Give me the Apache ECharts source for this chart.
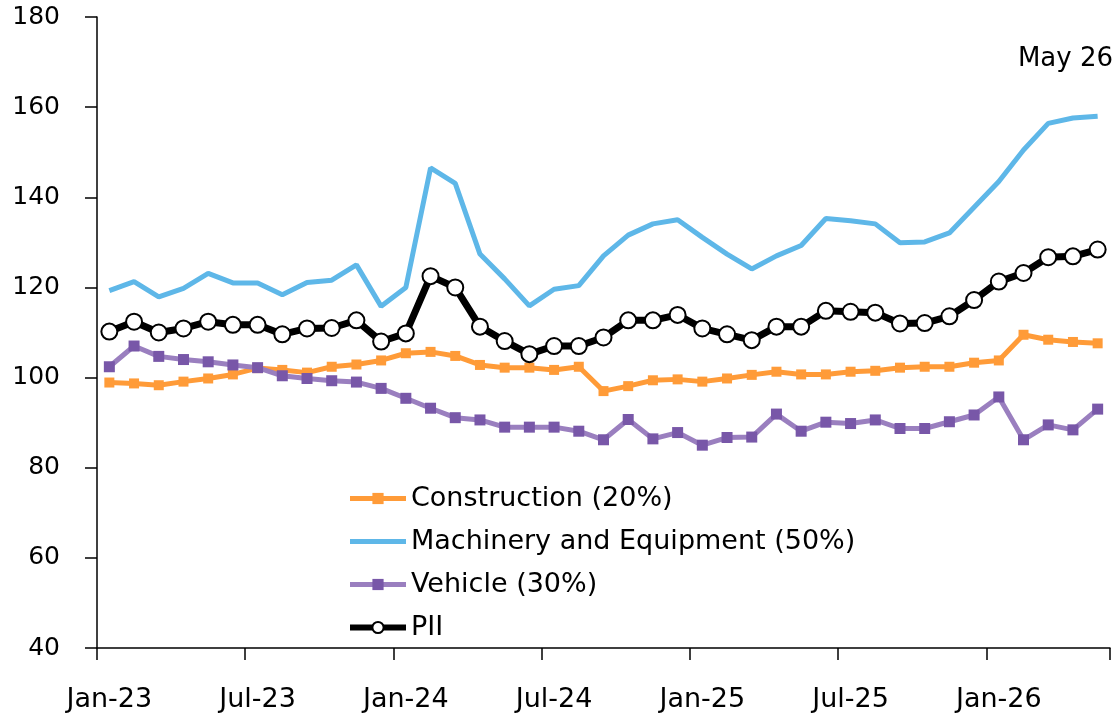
<!DOCTYPE html>
<html>
<head>
<meta charset="utf-8">
<title>PII</title>
<script src="https://cdn.jsdelivr.net/npm/echarts@6/dist/echarts.min.js"></script>
<style>
  html, body { margin: 0; padding: 0; background: #fff; }
  #chart { width: 1117px; height: 713px; }
</style>
</head>
<body>
<div id="chart"></div>
<script>
// months Jan-23 .. May-26
var months = [
    'Jan-23', 'Feb-23', 'Mar-23', 'Apr-23', 'May-23', 'Jun-23', 'Jul-23', 'Aug-23', 'Sep-23', 'Oct-23', 'Nov-23', 'Dec-23',
    'Jan-24', 'Feb-24', 'Mar-24', 'Apr-24', 'May-24', 'Jun-24', 'Jul-24', 'Aug-24', 'Sep-24', 'Oct-24', 'Nov-24', 'Dec-24',
    'Jan-25', 'Feb-25', 'Mar-25', 'Apr-25', 'May-25', 'Jun-25', 'Jul-25', 'Aug-25', 'Sep-25', 'Oct-25', 'Nov-25', 'Dec-25',
    'Jan-26', 'Feb-26', 'Mar-26', 'Apr-26', 'May-26'
];

var construction = [
    98.9, 98.7, 98.3, 99.1, 99.8, 100.7, 102.1, 101.7, 101.1, 102.4, 102.9, 103.8,
    105.4, 105.7, 104.8, 102.8, 102.2, 102.2, 101.7, 102.4, 97.0, 98.1, 99.4, 99.6,
    99.1, 99.8, 100.6, 101.3, 100.7, 100.7, 101.3, 101.5, 102.2, 102.4, 102.4, 103.3,
    103.8, 109.5, 108.4, 107.9, 107.6
];

var machinery = [
    119.3, 121.3, 117.9, 119.8, 123.1, 121.0, 121.0, 118.4, 121.1, 121.6, 125.0, 115.8,
    120.0, 146.5, 143.1, 127.4, 121.9, 115.9, 119.6, 120.4, 127.0, 131.6, 134.1, 135.0,
    131.1, 127.4, 124.1, 127.0, 129.3, 135.3, 134.8, 134.1, 129.9, 130.1, 132.1, 137.8,
    143.5, 150.5, 156.4, 157.6, 158.0
];

var vehicle = [
    102.4, 107.0, 104.7, 104.0, 103.5, 102.8, 102.2, 100.4, 99.8, 99.3, 99.0, 97.6,
    95.4, 93.2, 91.1, 90.6, 89.0, 89.0, 89.0, 88.1, 86.2, 90.7, 86.4, 87.8,
    85.0, 86.7, 86.8, 91.9, 88.1, 90.1, 89.8, 90.6, 88.7, 88.7, 90.2, 91.7,
    95.7, 86.2, 89.5, 88.4, 93.0
];

var pii = [
    110.2, 112.4, 110.0, 110.9, 112.4, 111.7, 111.7, 109.6, 110.9, 111.0, 112.7, 108.0,
    109.8, 122.5, 120.0, 111.3, 108.1, 105.2, 107.0, 107.0, 108.9, 112.7, 112.7, 113.9,
    110.9, 109.6, 108.3, 111.3, 111.3, 114.8, 114.6, 114.4, 112.0, 112.1, 113.6, 117.2,
    121.3, 123.2, 126.7, 126.9, 128.4
];

var seriesNames = ['Construction (20%)', 'Machinery and Equipment (50%)', 'Vehicle (30%)', 'PII'];
var lastLabel = 'May 26';

var font = 'DejaVu Sans';

var chart = echarts.init(document.getElementById('chart'));

var option = {
    animation: false,
    grid: {
        left: 97,
        right: 7,
        top: 17,
        bottom: 65
    },
    graphic: [{
        type: 'text',
        right: 4,
        top: 46,
        style: {
            text: lastLabel,
            fontFamily: font,
            fontSize: 26,
            fill: '#000'
        }
    }],
    legend: {
        orient: 'vertical',
        left: 342,
        top: 480,
        itemWidth: 56,
        itemHeight: 14,
        itemGap: 16,
        textStyle: {
            fontFamily: font,
            fontSize: 27,
            color: '#000'
        },
        data: [
            { name: seriesNames[0], lineStyle: { width: 5 } },
            { name: seriesNames[1], lineStyle: { width: 5 }, itemStyle: { opacity: 0 } },
            { name: seriesNames[2], lineStyle: { width: 5 } },
            { name: seriesNames[3], lineStyle: { width: 6 } }
        ]
    },
    xAxis: {
        type: 'category',
        boundaryGap: true,
        data: months,
        axisLine: { show: true, lineStyle: { color: '#000', width: 1.5 } },
        axisTick: { show: true, interval: 5, length: 12, lineStyle: { color: '#000', width: 1.5 } },
        axisLabel: {
            interval: 5,
            margin: 38,
            fontFamily: font,
            fontSize: 27,
            color: '#000'
        }
    },
    yAxis: {
        type: 'value',
        min: 40,
        max: 180,
        interval: 20,
        splitLine: { show: false },
        axisLine: { show: true, lineStyle: { color: '#000', width: 1.5 } },
        axisTick: { show: true, length: 12, lineStyle: { color: '#000', width: 1.5 } },
        axisLabel: {
            margin: 37,
            fontFamily: font,
            fontSize: 25,
            color: '#000'
        }
    },
    series: [{
            name: seriesNames[0],
            type: 'line',
            data: construction,
            symbol: 'rect',
            symbolSize: 10,
            lineStyle: { color: '#FF9B38', width: 5 },
            itemStyle: { color: '#FF9B38' }
        },
        {
            name: seriesNames[1],
            type: 'line',
            data: machinery,
            symbol: 'none',
            lineStyle: { color: '#5EB7E8', width: 5 },
            itemStyle: { color: '#5EB7E8' }
        },
        {
            name: seriesNames[2],
            type: 'line',
            data: vehicle,
            symbol: 'rect',
            symbolSize: 11,
            lineStyle: { color: '#9A7FBF', width: 5 },
            itemStyle: { color: '#7857A8' }
        },
        {
            name: seriesNames[3],
            type: 'line',
            data: pii,
            symbol: 'circle',
            symbolSize: 16,
            z: 5,
            lineStyle: { color: '#000', width: 7 },
            itemStyle: { color: '#fff', borderColor: '#000', borderWidth: 2 }
        }
    ]
};
chart.setOption(option);
</script>
</body>
</html>
